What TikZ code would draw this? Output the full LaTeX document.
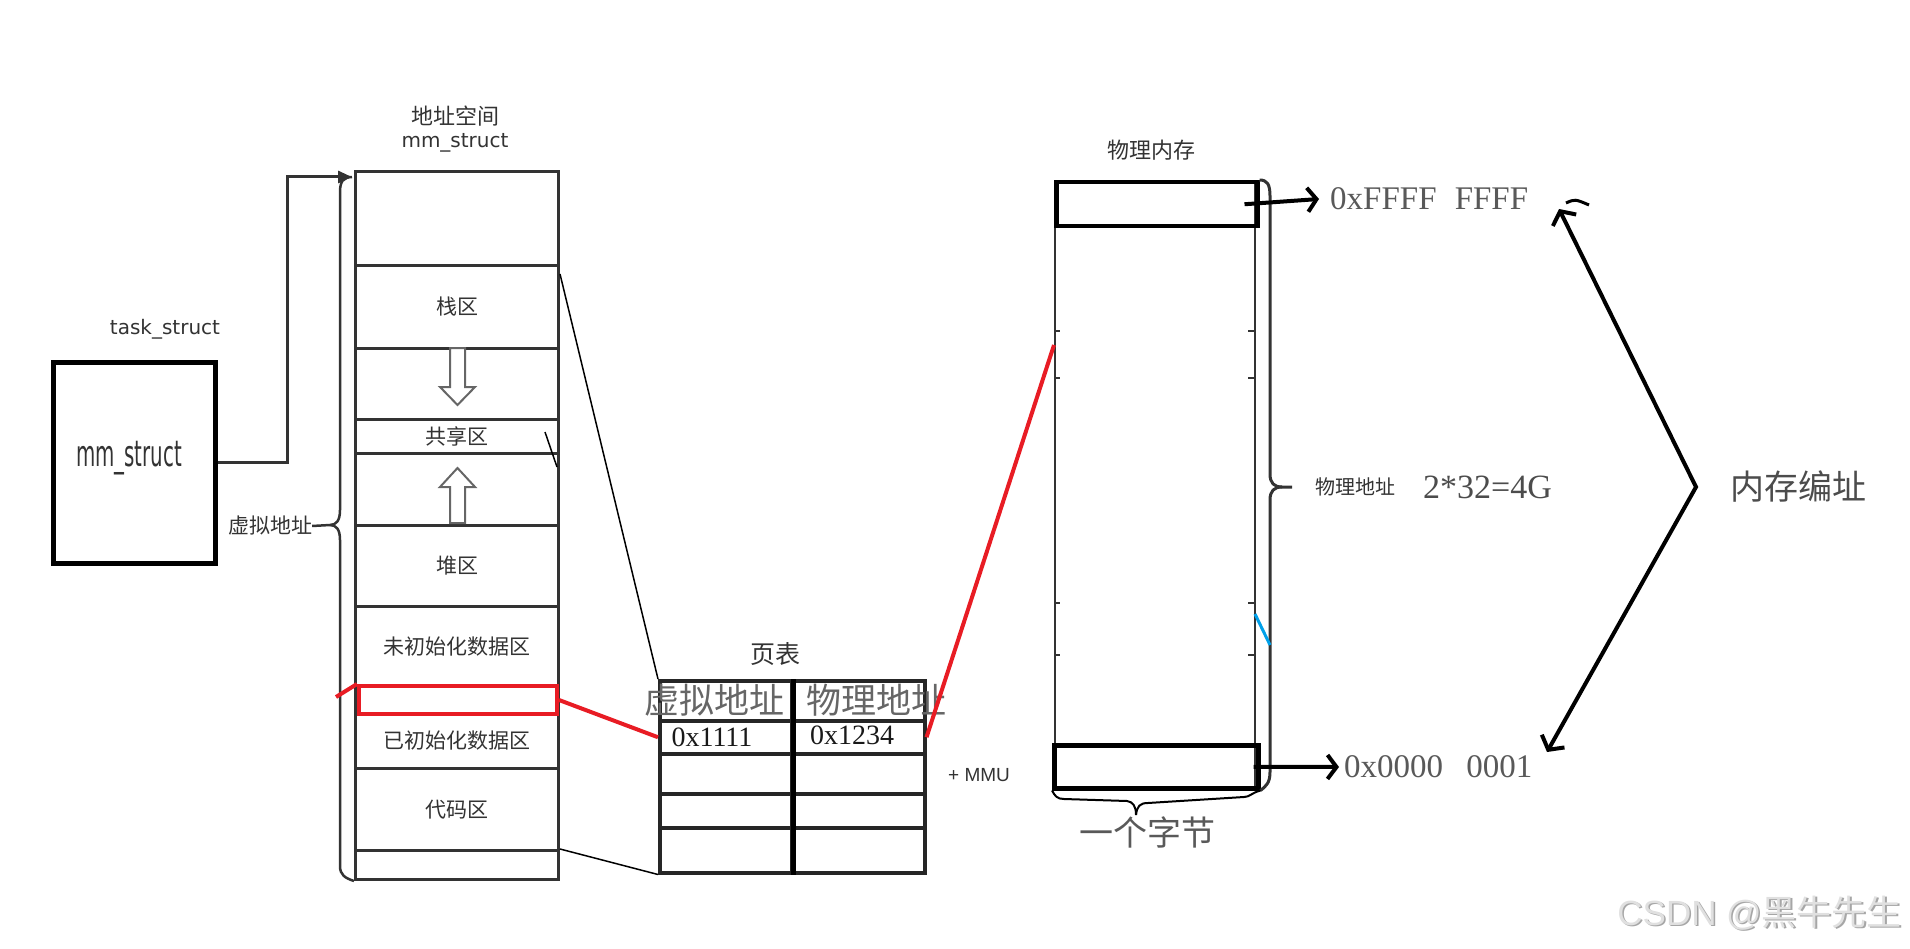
\documentclass[tikz,border=0pt]{standalone}
\usepackage{fontspec}
\usepackage{graphicx}
\usetikzlibrary{arrows.meta}
\setmainfont{Liberation Serif}
\setsansfont{DejaVu Sans}
\newfontfamily\cjk{Noto Sans CJK SC}
\newfontfamily\dvs{DejaVu Sans}
\newfontfamily\lsans{Liberation Sans}
\newcommand{\fsz}[1]{\fontsize{#1}{#1}\selectfont}
\definecolor{rd}{RGB}{232,28,36}
\definecolor{bl}{RGB}{0,160,233}
\begin{document}
\begin{tikzpicture}[x=1pt,y=-1pt,
  cell/.style={draw=black!80, line width=3pt, inner sep=0pt, anchor=north west, minimum width=203pt, text=black!80},
  tcell/.style={draw=black!85, line width=3.5pt, inner sep=0pt, anchor=north west, text=black!90},
  lbl/.style={inner sep=0pt, text=black!80},
  hollow/.style={draw=black!60, line width=2pt, fill=white},
  thinln/.style={line width=1.5pt, black},
  redln/.style={line width=4pt, rd},
  bigarrow/.style={line width=4pt, black},
]
\useasboundingbox (0,0) rectangle (1910,949);

% ---------- titles ----------
\node[lbl] (t1) at (455,116) {\cjk\fsz{22}地址空间};
\node[lbl] (t2) at (455,143) {\dvs\fsz{20}mm\_struct};
\node[lbl] (t3) at (165,329) {\dvs\fsz{20}task\_struct};

% ---------- task_struct box ----------
\node[draw=black, line width=4.5pt, minimum width=162pt, minimum height=201pt, anchor=north west, inner sep=0pt] (task) at (51,360) {};
\node[lbl] (mmtxt) at (129,458) {\scalebox{0.55}[1]{\dvs\fsz{36}mm\_struct}};

% ---------- address space column ----------
\node[cell, minimum height=94pt] (r0) at (354,170) {};
\node[cell, minimum height=83pt] (r1) at (354,264) {\cjk\fsz{21}栈区};
\node[cell, minimum height=71pt] (r2) at (354,347) {};
\node[cell, minimum height=34pt] (r3) at (354,418) {\raisebox{-3pt}{\cjk\fsz{21}共享区}};
\node[cell, minimum height=72pt] (r4) at (354,452) {};
\node[cell, minimum height=81pt] (r5) at (354,524) {\cjk\fsz{21}堆区};
\node[cell, minimum height=80pt] (r6) at (354,605) {\cjk\fsz{21}未初始化数据区};
\node[cell, minimum height=27pt] (r7) at (354,685) {};
\node[cell, minimum height=55pt] (r8) at (354,712) {\cjk\fsz{21}已初始化数据区};
\node[cell, minimum height=82pt] (r9) at (354,767) {\cjk\fsz{21}代码区};
\node[cell, minimum height=29pt] (r10) at (354,849) {};

% hollow arrows
\draw[hollow] (450,348) -- (465,348) -- (465,387) -- (475,387) -- (457.5,405) -- (440,387) -- (450,387) -- cycle;
\draw[hollow] (450,523) -- (450,487) -- (440,487) -- (457.5,468) -- (475,487) -- (465,487) -- (465,523) -- cycle;

% connector task -> address space
\coordinate (vtop) at (352,177);
\draw[line width=3pt, black!80, -{Triangle[length=14pt,width=12pt]}] (task.east) -- ++(70,0) |- (vtop);

% left brace + label
\node[lbl] (vlabel) at (270,526) {\cjk\fsz{21}虚拟地址};
\draw[line width=2.5pt, black!80] (vtop) .. controls (343,177) and (340,182) .. (340,192) -- (340,510)
  .. controls (340,521) and (336,525) .. (330,525) -- (vlabel.east);
\draw[line width=2.5pt, black!80] (330,525) .. controls (336,525) and (340,529) .. (340,540) -- (340,866)
  .. controls (340,875) and (345,878) .. (r10.south west);

% red box
\node[draw=rd, line width=4pt, minimum width=198pt, minimum height=28pt, anchor=north west, inner sep=0pt] (redbox) at (357,684) {};
\draw[redln] (redbox.north west) -- ++(-21,13);

% ---------- page table ----------
\node[lbl] (pt) at (775,654) {\cjk\fsz{25}页表};
\node[tcell, minimum width=132pt, minimum height=40pt] (h1) at (658,679) {};
\node[tcell, minimum width=133pt, minimum height=40pt] (h2) at (790,679) {};
\node[tcell, minimum width=132pt, minimum height=33pt] (c11) at (658,719) {};
\node[tcell, minimum width=133pt, minimum height=33pt] (c12) at (790,719) {};
\node[tcell, minimum width=132pt, minimum height=40pt] (c21) at (658,752) {};
\node[tcell, minimum width=133pt, minimum height=40pt] (c22) at (790,752) {};
\node[tcell, minimum width=132pt, minimum height=34pt] (c31) at (658,792) {};
\node[tcell, minimum width=133pt, minimum height=34pt] (c32) at (790,792) {};
\node[tcell, minimum width=132pt, minimum height=45pt] (c41) at (658,826) {};
\node[tcell, minimum width=133pt, minimum height=45pt] (c42) at (790,826) {};
\draw[line width=4.5pt, black] (h1.north east) -- (c41.south east);
\node[lbl, text=black!60] (hv) at (714,700) {\cjk\fsz{35}虚拟地址};
\node[lbl, text=black!60] (hp) at (876,700) {\cjk\fsz{35}物理地址};
\node[lbl, text=black!90] (v1111) at (712,737) {\fsz{28}0x1111};
\node[lbl, text=black!90] (v1234) at (852,735) {\fsz{28}0x1234};
\node[lbl, anchor=west] (mmu) at (948,775) {\lsans\fsz{19}+ MMU};

% thin lines column -> table
\draw[thinln] ([yshift=-10pt]r1.north east) -- (h1.north west);
\draw[thinln] (r10.north east) -- (c41.south west);
\draw[thinln] (545,432) -- (557,467);

% red lines
\draw[redln] (redbox.east) -- (c11.west);

% ---------- physical memory ----------
\node[lbl] (pmt) at (1151,150) {\cjk\fsz{22}物理内存};
\node[draw=black!80, line width=2pt, minimum width=200pt, minimum height=606pt, anchor=north west, inner sep=0pt] (pm) at (1054,180) {};
\node[draw=black, line width=4.5pt, minimum width=201pt, minimum height=44pt, anchor=north west, inner sep=0pt] (ptop) at (1054,180) {};
\node[draw=black, line width=4.5pt, minimum width=204pt, minimum height=43pt, anchor=north west, inner sep=0pt] (pbot) at (1052,743) {};
\foreach \yy in {331,378,603,655} {
  \draw[line width=1.5pt, black!80] (1054,\yy) -- (1060,\yy);
  \draw[line width=1.5pt, black!80] (1248,\yy) -- (1254,\yy);
}
\coordinate (pmhit) at ([yshift=-165pt]pm.north west);
\draw[redln] (c12.east) -- (pmhit);

% right brace
\coordinate (btip) at (1292,487);
\draw[line width=3pt, black!80] (ptop.north east) .. controls (1267,180) and (1270,184) .. (1270,196) -- (1270,474)
  .. controls (1270,483) and (1274,487) .. (1282,487) -- (btip);
\draw[line width=3pt, black!80] (1282,487) .. controls (1274,487) and (1270,491) .. (1270,500) -- (1270,772)
  .. controls (1270,783) and (1266,786) .. (pbot.south east);
\draw[line width=3pt, bl] (1255,614) -- (1270,645);

% bottom brace
\node[lbl, text=black!65] (byte) at (1147,832) {\cjk\fsz{34}一个字节};
\draw[line width=2pt, black] (pbot.south west) .. controls (1055,796) and (1057,799) .. (1064,799) -- (1127,801)
  .. controls (1133,802) and (1136,806) .. (1136,815);
\draw[line width=2pt, black] (1136,815) .. controls (1137,806) and (1140,803) .. (1148,803) -- (1244,797)
  .. controls (1250,797) and (1251,793) .. (pbot.south east);

% addresses
\node[lbl, anchor=west, text=black!65] (ffff) at (1330,199) {\fsz{33}0xFFFF\hspace{0.55em}FFFF};
\node[lbl, anchor=west, text=black!65] (n0001) at (1344,767) {\fsz{33}0x0000\hspace{0.7em}0001};
\draw[line width=4pt, black, -{Straight Barb[length=9pt,width=24pt]}] ([xshift=-15pt]ptop.east) -- ([xshift=-11pt]ffff.west);
\draw[line width=4pt, black, -{Straight Barb[length=9pt,width=24pt]}] ([xshift=-7pt]pbot.east) -- ([xshift=-5pt]n0001.west);

% physical address label
\node[lbl, anchor=west] (paddr) at (1315,487) {\cjk\fsz{20}物理地址};
\node[lbl, anchor=west, text=black!70] (p4g) at (1423,487) {\fsz{34}2*32=4G};

% memory addressing arrows
\coordinate (vx) at (1696,487);
\coordinate (atop) at (1559,209);
\coordinate (abot) at (1547,752);
\draw[bigarrow, {Straight Barb[length=10pt,width=26pt]}-{Straight Barb[length=10pt,width=26pt]}] (atop) -- (vx) -- (abot);
\draw[line width=3pt, black] (1566,203) .. controls (1575,199) .. (1589,205);
\node[lbl, anchor=west, text=black!70] (mem) at (1730,487) {\cjk\fsz{34}内存编址};

% watermark
\node[lbl, anchor=east, text=black!35] (wm0) at (1903.5,914.5) {\lsans\fsz{35}CSDN @\cjk 黑牛先生};
\node[lbl, anchor=east, text=black!12] (wm) at (1902,913) {\lsans\fsz{35}CSDN @\cjk 黑牛先生};
\end{tikzpicture}
\end{document}
